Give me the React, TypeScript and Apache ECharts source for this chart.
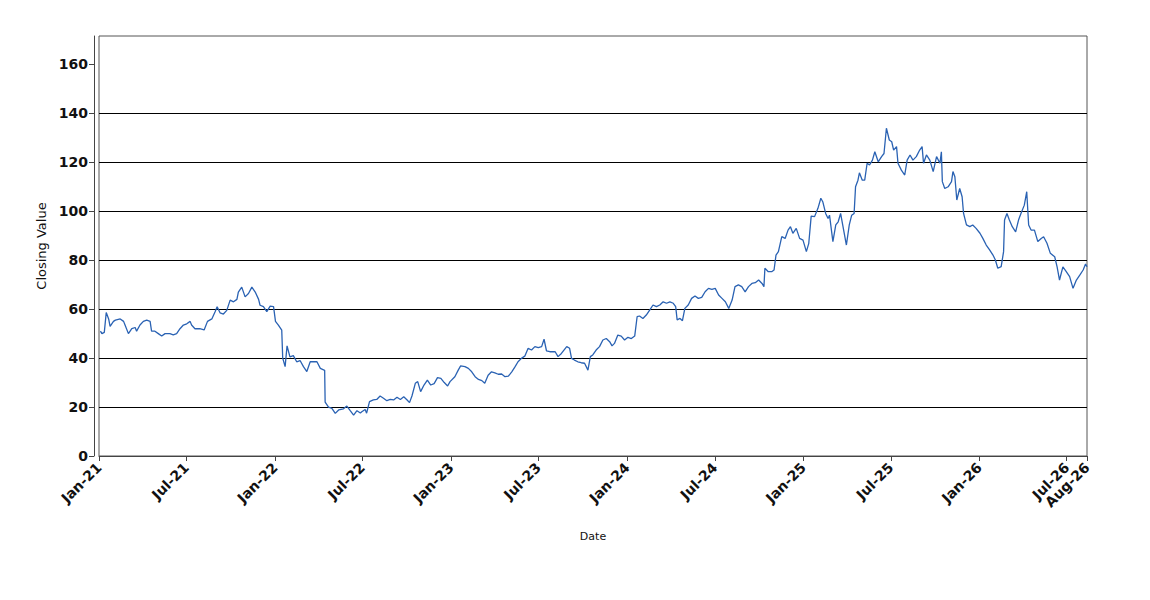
import React, { useEffect, useRef } from "react";
import * as echarts from "echarts";

const DATES: string[] = [
  "2021-01-04","2021-01-07","2021-01-12","2021-01-16","2021-01-21","2021-01-24","2021-01-31","2021-02-04","2021-02-14","2021-02-21","2021-02-24","2021-03-03","2021-03-10","2021-03-17","2021-03-20","2021-03-27","2021-04-03","2021-04-10","2021-04-17","2021-04-20","2021-04-27","2021-05-04","2021-05-11","2021-05-18","2021-05-28","2021-06-04","2021-06-11","2021-06-18","2021-06-25","2021-07-02","2021-07-09","2021-07-12","2021-07-19","2021-07-29","2021-08-07","2021-08-14","2021-08-23","2021-08-30","2021-09-03","2021-09-09","2021-09-16","2021-09-23","2021-09-30","2021-10-07","2021-10-14","2021-10-17","2021-10-24","2021-10-31","2021-11-07","2021-11-14","2021-11-21","2021-11-28","2021-12-01","2021-12-08","2021-12-15","2021-12-22","2021-12-29",
  "2022-01-02","2022-01-08","2022-01-15","2022-01-17","2022-01-22","2022-01-26","2022-02-01","2022-02-08","2022-02-15","2022-02-22","2022-03-01","2022-03-08","2022-03-15","2022-03-22","2022-03-29","2022-04-05","2022-04-14","2022-04-15","2022-04-22","2022-04-29","2022-05-06","2022-05-13","2022-05-23","2022-05-30","2022-06-06","2022-06-13","2022-06-20","2022-06-27","2022-06-30","2022-07-07","2022-07-10","2022-07-16","2022-07-24","2022-07-31","2022-08-07","2022-08-14","2022-08-21","2022-08-28","2022-09-04","2022-09-11","2022-09-18","2022-09-25","2022-10-02","2022-10-07","2022-10-12","2022-10-19","2022-10-24","2022-10-30","2022-11-06","2022-11-13","2022-11-20","2022-11-27","2022-12-04","2022-12-11","2022-12-18","2022-12-25","2022-12-30",
  "2023-01-09","2023-01-16","2023-01-21","2023-01-30","2023-02-06","2023-02-13","2023-02-20","2023-02-27","2023-03-06","2023-03-12","2023-03-19","2023-03-26","2023-04-02","2023-04-09","2023-04-16","2023-04-23","2023-04-30","2023-05-07","2023-05-14","2023-05-20","2023-05-27","2023-06-03","2023-06-10","2023-06-17","2023-06-24","2023-07-01","2023-07-08","2023-07-13","2023-07-18","2023-07-25","2023-08-05","2023-08-11","2023-08-18","2023-08-29","2023-09-04","2023-09-08","2023-09-14","2023-09-21","2023-09-28","2023-10-05","2023-10-12","2023-10-17","2023-10-22","2023-10-29","2023-11-05","2023-11-12","2023-11-19","2023-11-26","2023-12-01","2023-12-06","2023-12-13","2023-12-20","2023-12-27",
  "2024-01-03","2024-01-10","2024-01-17","2024-01-22","2024-01-27","2024-02-03","2024-02-10","2024-02-17","2024-02-24","2024-03-02","2024-03-09","2024-03-16","2024-03-23","2024-03-30","2024-04-06","2024-04-11","2024-04-14","2024-04-20","2024-04-25","2024-04-30","2024-05-07","2024-05-14","2024-05-21","2024-05-28","2024-06-04","2024-06-11","2024-06-18","2024-06-25","2024-07-02","2024-07-09","2024-07-16","2024-07-23","2024-07-30","2024-08-06","2024-08-12","2024-08-19","2024-08-26","2024-09-02","2024-09-09","2024-09-16","2024-09-23","2024-09-30","2024-10-07","2024-10-11","2024-10-13","2024-10-20","2024-10-27","2024-11-01","2024-11-05","2024-11-10","2024-11-17","2024-11-24","2024-11-30","2024-12-05","2024-12-10","2024-12-17","2024-12-24","2024-12-31",
  "2025-01-07","2025-01-12","2025-01-17","2025-01-24","2025-01-31","2025-02-06","2025-02-10","2025-02-16","2025-02-21","2025-02-24","2025-03-03","2025-03-09","2025-03-14","2025-03-19","2025-03-24","2025-03-31","2025-04-06","2025-04-11","2025-04-16","2025-04-19","2025-04-24","2025-04-27","2025-05-03","2025-05-08","2025-05-13","2025-05-18","2025-05-24","2025-05-29","2025-06-05","2025-06-12","2025-06-17","2025-06-22","2025-06-28","2025-07-03","2025-07-07","2025-07-13","2025-07-16","2025-07-23","2025-07-30","2025-08-04","2025-08-10","2025-08-16","2025-08-23","2025-08-30","2025-09-04","2025-09-07","2025-09-13","2025-09-20","2025-09-27","2025-10-04","2025-10-11","2025-10-14","2025-10-16","2025-10-21","2025-10-28","2025-11-04","2025-11-07","2025-11-11","2025-11-15","2025-11-21","2025-11-26","2025-11-29","2025-12-05","2025-12-12","2025-12-18","2025-12-25",
  "2026-01-02","2026-01-08","2026-01-15","2026-01-22","2026-01-29","2026-02-03","2026-02-08","2026-02-15","2026-02-20","2026-02-22","2026-02-27","2026-03-04","2026-03-10","2026-03-17","2026-03-23","2026-03-28","2026-04-04","2026-04-09","2026-04-13","2026-04-18","2026-04-25","2026-05-02","2026-05-09","2026-05-14","2026-05-21","2026-05-28","2026-06-06","2026-06-11","2026-06-16","2026-06-23","2026-06-30","2026-07-07","2026-07-14","2026-07-21","2026-07-28","2026-08-04","2026-08-09","2026-08-12"
];

const CLOSES: number[] = [
  51,50,50.5,58.6,56,53,55,55.5,56,55,53.5,50,52,52.5,51,53.5,55,55.5,55,51,51,50,49,50,50,49.5,50,52,53.5,54,55,53.5,52,52,51.5,55,56,59,61,58.5,58,59.5,63.7,63,64,67,69,65,66.4,69,67,64,61.6,61,59,61.2,61,
  55,53.5,51.4,40,36.5,45,40.5,41,38.5,39,36.5,34.5,38.5,38.5,38.5,35.8,35,22,20,19.5,17.4,18.8,19.3,20.4,18.5,16.7,18.5,17.6,18.1,19,17.5,22.2,22.9,23.1,24.5,23.6,22.6,23.1,22.9,24,23.1,24.2,22.9,21.8,24.5,29.7,30.4,26.3,29,31,29,29.6,32,31.7,30,28.6,30.4,
  32.4,35.1,36.8,36.5,35.8,34.4,32.4,31.3,30.8,29.7,33,34.4,34,33.4,33.5,32.4,32.6,34.4,36.5,38.5,39.9,40.8,44,43.3,44.7,44.3,44.7,47.7,43,42.6,42.6,40.6,41.9,44.7,44,39.9,39.2,38.5,38.1,37.9,35.1,40.6,41.3,43.3,44.7,47.4,48,46.7,45,46,49.4,49,47.4,
  48.5,48,49,56.9,57.2,56.2,57.6,59.6,61.7,61,61.7,63,62.4,63,62.4,61,55.6,56.2,55.3,60.3,61.7,64.4,65.4,64.4,64.8,67.1,68.5,68.1,68.5,65.8,64.4,63,60.3,63.7,69.2,69.9,69.2,67.1,69.2,70.5,70.8,71.9,70.5,69.2,76.7,75.3,75.3,76,82.1,83.5,89.6,88.9,92.3,93.7,91,93,88.9,88.2,
  83.5,86.9,98,97.8,101.2,105.3,103.9,99.1,97,98.4,87.6,94.4,95.7,99.1,93.7,86.2,94.4,98.4,99.1,110,112.7,115.7,112.7,112.7,119.6,118.9,120.9,124.3,120.2,122.3,123.6,133.9,129.1,128.4,125,126.4,119.6,116.8,114.8,120.9,123,120.9,122.3,125,126.4,119.6,123,120.9,116.2,122.3,119.6,124.3,112.1,109.3,110,112.1,116.2,114.1,104.6,109.3,105.9,99.1,94.4,93.7,94.4,93,
  91,88.9,86.2,84.2,82.1,80.1,76.7,77.4,83.5,96.4,99.1,96.4,93.7,91.6,96.4,99.1,102.5,108,94.4,92.3,92.3,87.6,88.9,89.6,86.9,82.8,81.4,77.3,71.9,77.3,75.3,73.3,68.5,71.9,73.9,76,78.4,77.3
];

const X_TICK_DATES: string[] = [
  "2021-01-01","2021-07-01","2022-01-01","2022-07-01","2023-01-01","2023-07-01",
  "2024-01-01","2024-07-01","2025-01-01","2025-07-01","2026-01-01","2026-07-01","2026-08-12"
];
const Y_TICKS: number[] = [0, 20, 40, 60, 80, 100, 120, 140, 160];
const MONTHS = ["Jan","Feb","Mar","Apr","May","Jun","Jul","Aug","Sep","Oct","Nov","Dec"];

const toTs = (s: string) => {
  const [y, m, d] = s.split("-").map(Number);
  return Date.UTC(y, m - 1, d);
};

export default function App() {
  const ref = useRef<HTMLDivElement>(null);
  useEffect(() => {
    document.body.style.margin = "0";
    if (!ref.current) return;
    const chart = echarts.init(ref.current, undefined, { renderer: "svg" });
    const xTicks = X_TICK_DATES.map(toTs);
    const font = "'DejaVu Sans', sans-serif";
    chart.setOption({
      animation: false,
      backgroundColor: "#ffffff",
      grid: {
        left: 99, right: 63, top: 36, bottom: 144,
        show: true, borderColor: "#555", borderWidth: 1, backgroundColor: "#fff",
      },
      xAxis: {
        type: "value",
        min: xTicks[0],
        max: xTicks[xTicks.length - 1],
        offset: 5,
        axisLine: { show: true, lineStyle: { color: "#444", width: 1 } },
        axisTick: { show: true, length: 5, customValues: xTicks, lineStyle: { color: "#444" } },
        axisLabel: {
          customValues: xTicks,
          rotate: 45,
          margin: 4,
          fontFamily: font,
          fontWeight: "bold",
          fontSize: 14,
          color: "#111",
          formatter: (v: number) => {
            const d = new Date(v);
            return MONTHS[d.getUTCMonth()] + "-" + String(d.getUTCFullYear()).slice(2);
          },
        },
        splitLine: { show: false },
        name: "Date",
        nameLocation: "middle",
        nameGap: 70,
        nameTextStyle: { fontFamily: font, fontSize: 11, color: "#111" },
      },
      yAxis: {
        type: "value",
        min: 0,
        max: 171.6,
        interval: 20,
        offset: 5,
        axisLine: { show: true, lineStyle: { color: "#444", width: 1 } },
        axisTick: { show: true, length: 5, customValues: Y_TICKS, lineStyle: { color: "#444" } },
        axisLabel: {
          customValues: Y_TICKS,
          margin: 6,
          fontFamily: font,
          fontWeight: "bold",
          fontSize: 14,
          color: "#111",
        },
        splitLine: { show: true, showMaxLine: false, showMinLine: false, lineStyle: { color: "#000", width: 1 } },
        name: "Closing Value",
        nameLocation: "middle",
        nameGap: 40,
        nameTextStyle: { fontFamily: font, fontSize: 13, color: "#111" },
      },
      series: [
        {
          type: "line",
          data: DATES.map((d, i) => [toTs(d), CLOSES[i]]),
          showSymbol: false,
          symbol: "none",
          lineStyle: { color: "#2a62b3", width: 1.3 },
          itemStyle: { color: "#2a62b3" },
        },
      ],
    });
    return () => chart.dispose();
  }, []);
  return <div ref={ref} style={{ width: 1150, height: 600 }} />;
}
